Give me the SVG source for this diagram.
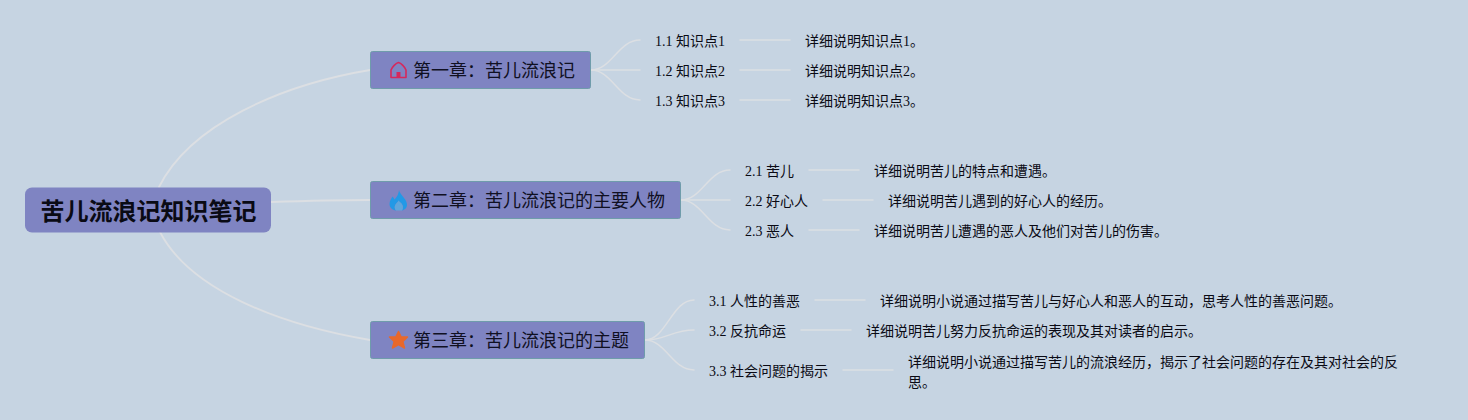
<svg xmlns="http://www.w3.org/2000/svg" width="1468" height="420" viewBox="0 0 1468 420">
<style>
text{font-family:"Liberation Serif","Noto Sans CJK SC",serif;fill:#0a0a14}
.root{font-size:24px;font-weight:700;font-family:"Liberation Sans","Noto Sans CJK SC",sans-serif}
.ch{font-size:18px;fill:#101022}
.t{font-size:14px}
.box{fill:#7f84c2;stroke:#6f9cab;stroke-width:1}
.c{fill:none;stroke:#dcdfe3;stroke-width:1.8;stroke-linecap:round}
.f{stroke-width:1.5}
</style>
<rect width="1468" height="420" fill="#c6d4e2"/>
<g id="connectors">
<path class="c" d="M159 187C190 125 280 85 370 70"/>
<path class="c" d="M271 202C300 201 340 200 370 200"/>
<path class="c" d="M160 232C190 290 280 325 370 340"/>
<path class="c f" d="M591 70C612 70 618 40 640 40"/>
<path class="c f" d="M591 70H640"/>
<path class="c f" d="M591 70C612 70 618 100 640 100"/>
<path class="c f" d="M740 40H790M740 70H790M740 100H790"/>
<path class="c f" d="M681 200C702 200 708 170 730 170"/>
<path class="c f" d="M681 200H730"/>
<path class="c f" d="M681 200C702 200 708 230 730 230"/>
<path class="c f" d="M809 170H859M823 200H873M809 230H859"/>
<path class="c f" d="M645 340C666 340 672 300 694 300"/>
<path class="c f" d="M645 340C666 340 672 330 694 330"/>
<path class="c f" d="M645 340C666 340 672 370 694 370"/>
<path class="c f" d="M815 300H865M801 330H851M843 370H893"/>
</g>
<g id="root"><rect x="25" y="187.500" width="246" height="45" rx="7" fill="#7f84c2"/><text class="root" x="40.500" y="220">苦儿流浪记知识笔记</text></g>
<g id="ch1"><rect class="box" x="370.500" y="51.500" width="220" height="37" rx="2"/>
<path d="M391 70C392 67 396 63 398.500 62.500C401 63 405 67 406 70V77.500H391Z" fill="none" stroke="#d6285c" stroke-width="1.600" stroke-linejoin="round"/><rect x="396.500" y="72" width="4" height="5.500" fill="#d6285c"/>
<text class="ch" x="413" y="77">第一章：苦儿流浪记</text></g>
<g id="ch2"><rect class="box" x="370.500" y="181.500" width="310" height="37" rx="2"/>
<path d="M399 190C399.500 193 402 195 404 198C406 200.500 407 202.500 407 205C407 208 404.500 210 402 210.500C403.500 208 403 205.500 401.500 203.500C400.500 202.500 399 201.500 398.500 200.500C398 202 396 203.500 395 205.500C394.500 207 394.500 209 396 210.500C392.500 210 389.500 207.500 389.500 204C389.500 200.500 391.500 198.500 392.500 196.500C393.500 197.500 394 198.500 394.500 199.500C397 197 398.800 193.500 399 190Z" fill="#2299e6"/>
<path d="M398.500 200.500C399 201.500 400.500 202.500 401.500 203.500C403 205.500 403.500 208 402 210.500L396 210.500C394.500 209 394.500 207 395 205.500C396 203.500 398 202 398.500 200.500Z" fill="#5fa6dc"/>
<text class="ch" x="413" y="207">第二章：苦儿流浪记的主要人物</text></g>
<g id="ch3"><rect class="box" x="370.500" y="321.500" width="274" height="37" rx="2"/>
<path d="M398.500 331.500L401.200 337H407.500L402.800 341.500L404.500 348L398.500 344.700L392.500 348L394.200 341.500L389.500 337H395.800Z" fill="#e8682c" stroke="#e8682c" stroke-width="1.500" stroke-linejoin="round"/>
<text class="ch" x="413" y="347">第三章：苦儿流浪记的主题</text></g>
<g id="n11"><text class="t" x="655" y="46">1.1 知识点1</text></g>
<g id="n12"><text class="t" x="655" y="76">1.2 知识点2</text></g>
<g id="n13"><text class="t" x="655" y="106">1.3 知识点3</text></g>
<g id="d11"><text class="t" x="805" y="46">详细说明知识点1。</text></g>
<g id="d12"><text class="t" x="805" y="76">详细说明知识点2。</text></g>
<g id="d13"><text class="t" x="805" y="106">详细说明知识点3。</text></g>
<g id="n21"><text class="t" x="745" y="176">2.1 苦儿</text></g>
<g id="n22"><text class="t" x="745" y="206">2.2 好心人</text></g>
<g id="n23"><text class="t" x="745" y="236">2.3 恶人</text></g>
<g id="d21"><text class="t" x="874" y="176">详细说明苦儿的特点和遭遇。</text></g>
<g id="d22"><text class="t" x="888" y="206">详细说明苦儿遇到的好心人的经历。</text></g>
<g id="d23"><text class="t" x="874" y="236">详细说明苦儿遭遇的恶人及他们对苦儿的伤害。</text></g>
<g id="n31"><text class="t" x="709" y="306">3.1 人性的善恶</text></g>
<g id="n32"><text class="t" x="709" y="336">3.2 反抗命运</text></g>
<g id="n33"><text class="t" x="709" y="376">3.3 社会问题的揭示</text></g>
<g id="d31"><text class="t" x="880" y="306">详细说明小说通过描写苦儿与好心人和恶人的互动，思考人性的善恶问题。</text></g>
<g id="d32"><text class="t" x="866" y="336">详细说明苦儿努力反抗命运的表现及其对读者的启示。</text></g>
<g id="d33"><text class="t" x="908" y="367">详细说明小说通过描写苦儿的流浪经历，揭示了社会问题的存在及其对社会的反</text><text class="t" x="908" y="387">思。</text></g>
</svg>
